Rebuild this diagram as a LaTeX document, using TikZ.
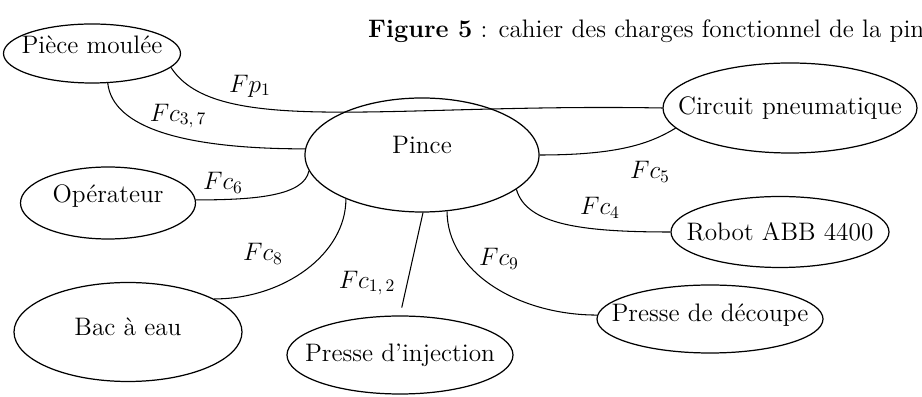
\documentclass[tikz,border=0pt]{standalone}
\usepackage{tikz}
\usetikzlibrary{positioning,shapes.geometric}

\begin{document}
\begin{tikzpicture}[
    font=\fontsize{14.4}{17}\selectfont,
    bloc/.style={draw, ellipse, line width=0.7pt, inner sep=0pt},
    lien/.style={line width=0.6pt}
]
\useasboundingbox (0,0) rectangle (18.44,7.94);

% Title (runs past the right edge)
\node[anchor=west] (titre) at (7.24,7.32)
{\textbf{Figure 5} : cahier des charges fonctionnel de la pince};

% ---- Ellipses ----

% Pince
\node[bloc, minimum width=4.68cm, minimum height=2.28cm,
      label={[yshift=0.2cm]center:Pince}] (pince) at (8.44,4.84) {};

% Around it
\node[bloc, minimum width=3.54cm, minimum height=1.18cm,
      label={[yshift=0.18cm]center:Pièce moulée}] (piece) at (1.84,6.87) {};
\node[bloc, minimum width=3.5cm, minimum height=1.44cm,
      label={[yshift=0.14cm]center:Opérateur}] (operateur) at (2.16,3.88) {};
\node[bloc, minimum width=4.56cm, minimum height=1.98cm,
      label={[yshift=0.1cm]center:Bac à eau}] (bac) at (2.56,1.30) {};
\node[bloc, minimum width=4.52cm, minimum height=1.56cm,
      label={center:Presse d’injection}] (injection) at (8.00,0.84) {};
\node[bloc, minimum width=4.52cm, minimum height=1.36cm,
      label={[yshift=0.08cm]center:Presse de découpe}] (decoupe) at (14.2,1.56) {};
\node[bloc, minimum width=4.36cm, minimum height=1.42cm,
      label={center:Robot ABB 4400}] (robot) at (15.6,3.30) {};
\node[bloc, minimum width=5.08cm, minimum height=1.80cm,
      label={center:Circuit pneumatique}] (circuit) at (15.8,5.78) {};

% ---- Links ----
\draw[lien] (piece.-10) .. controls +(0.9,-1.4) and +(-5.5,0.1) .. (circuit.180);
\draw[lien] (piece.-62) .. controls +(0.1,-0.9) and +(-2.4,0) .. (pince.177);
\draw[lien] (operateur.2) .. controls +(1.2,0) and +(-0.1,-0.5) .. (pince.188);
\draw[lien] (bac.21) .. controls +(1.4,0) and +(0,-1.1) .. (pince.210);
\draw[lien, shorten >=0.16cm] (pince.-89) -- (injection.north);
\draw[lien] (pince.-66) .. controls +(0,-1.2) and +(-1.6,0) .. (decoupe.178);
\draw[lien] (pince.-20) .. controls +(0.2,-0.7) and +(-1.8,0) .. (robot.west);
\draw[lien] (pince.east) .. controls +(1.6,0) and +(-0.5,-0.3) .. (circuit.190);

% ---- Function labels ----
\node (fp1) at (5.0,6.22) {$Fp_1$};
\node (fc37) at (3.56,5.62) {$Fc_{3,\,7}$};
\node (fc6) at (4.46,4.28) {$Fc_6$};
\node (fc8) at (5.26,2.86) {$Fc_8$};
\node (fc12) at (7.34,2.28) {$Fc_{1,\,2}$};
\node (fc9) at (9.98,2.76) {$Fc_9$};
\node (fc4) at (12.0,3.78) {$Fc_4$};
\node (fc5) at (13.0,4.50) {$Fc_5$};

\end{tikzpicture}
\end{document}
